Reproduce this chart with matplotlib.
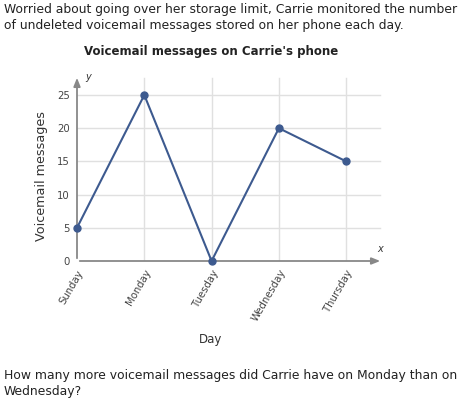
import matplotlib
matplotlib.use("Agg")
import matplotlib.pyplot as plt
from matplotlib import rcParams

rcParams['font.family'] = 'DejaVu Sans'

# chart data
days = ["Sunday", "Monday", "Tuesday", "Wednesday", "Thursday"]
messages = [5, 25, 0, 20, 15]
y_ticks = [0, 5, 10, 15, 20, 25]

W, H = 460, 400
fig = plt.figure(figsize=(W / 100, H / 100), dpi=100)
fig.patch.set_facecolor('white')

def px(x, y):
    # pixel coords (top-left origin) -> figure fraction
    return x / W, 1 - y / H

body = dict(fontsize=8.9, color='#222222', va='center', ha='left')
# question text
fig.text(*px(4, 9), "Worried about going over her storage limit, Carrie monitored the number", **body)
fig.text(*px(4, 25), "of undeleted voicemail messages stored on her phone each day.", **body)
fig.text(*px(211, 51), "Voicemail messages on Carrie's phone",
         fontsize=8.5, fontweight='bold', color='#222222', va='center', ha='center')
fig.text(*px(4, 376), "How many more voicemail messages did Carrie have on Monday than on", **body)
fig.text(*px(4, 392), "Wednesday?", **body)

# axes placed in pixel box: x 77..383, y 75..261
x0, x1, ytop, ybot = 77, 383, 75, 261
ax = fig.add_axes([x0 / W, 1 - ybot / H, (x1 - x0) / W, (ybot - ytop) / H])
step = 67.3
ax.set_xlim(0, (x1 - x0) / step)
ax.set_ylim(0, (ybot - ytop) / 6.64)

for s in ax.spines.values():
    s.set_visible(False)

xs = list(range(len(days)))
grid_top = (ybot - 78) / 6.64
for x in xs[1:]:
    ax.plot([x, x], [0, grid_top], color='#e0e0e0', lw=1, zorder=1)
for y in y_ticks[1:]:
    ax.plot([0, ax.get_xlim()[1] - 0.05], [y, y], color='#e0e0e0', lw=1, zorder=1)

# axis arrows
ax.annotate("", xy=(ax.get_xlim()[1], 0), xytext=(0, 0),
            arrowprops=dict(arrowstyle='-|>,head_length=0.5,head_width=0.2', color='#888888', lw=1.3),
            annotation_clip=False, zorder=2)
ax.annotate("", xy=(0, ax.get_ylim()[1]), xytext=(0, 0),
            arrowprops=dict(arrowstyle='-|>,head_length=0.5,head_width=0.2', color='#888888', lw=1.3),
            annotation_clip=False, zorder=2)
ax.text(0.12, ax.get_ylim()[1] - 0.3, "y", fontsize=7, style='italic', color='#333333', va='center')
ax.text(ax.get_xlim()[1] - 0.05, 1.3, "x", fontsize=7, style='italic', color='#333333', ha='center')

ax.plot(xs, messages, color='#3d5a8f', lw=1.5, marker='o', markersize=5, zorder=4, clip_on=False)

ax.set_xticks(xs)
ax.set_xticklabels(days, rotation=60, ha='right', rotation_mode='anchor', fontsize=7.3, color='#444444')
ax.set_yticks(y_ticks)
ax.set_yticklabels([str(v) for v in y_ticks], fontsize=7.3, color='#444444')
ax.tick_params(length=0, pad=5)

fig.text(*px(211, 339), "Day", fontsize=8.5, color='#333333', ha='center', va='center')
fig.text(*px(42, 176), "Voicemail messages", fontsize=9.2, color='#333333', ha='center', va='center',
         rotation=90)

fig.savefig("out.png", dpi=100, facecolor='white')
